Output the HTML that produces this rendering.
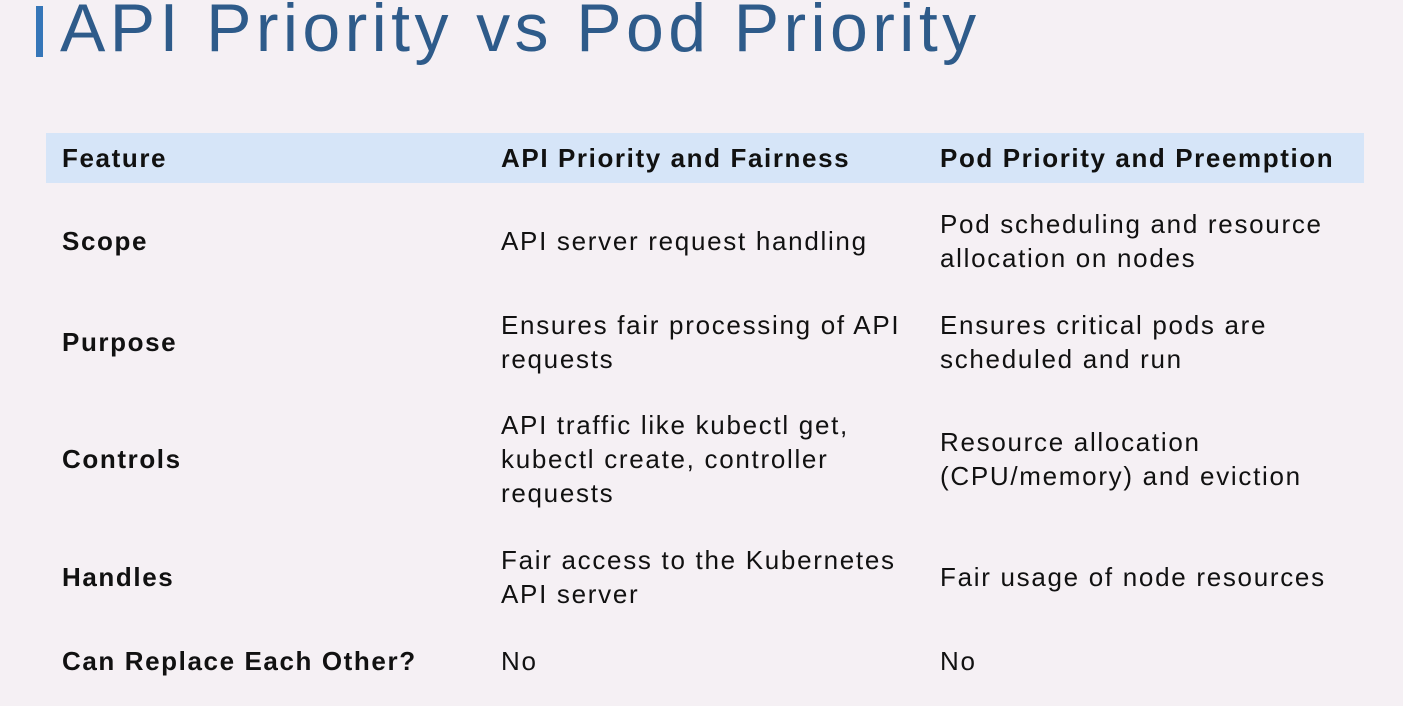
<!DOCTYPE html>
<html><head><meta charset="utf-8"><style>
html,body{margin:0;padding:0}
body{width:1403px;height:706px;background:#f5f0f4;position:relative;overflow:hidden;font-family:"Liberation Sans",sans-serif;color:#111}
.bar{position:absolute;left:36px;top:6px;width:7px;height:51px;background:#3576b8}
.title{position:absolute;left:60px;top:-12px;font-size:68px;color:#2e5b8a;letter-spacing:4.4px;white-space:nowrap;line-height:80px}
.hdr{position:absolute;left:46px;top:133px;width:1318px;height:50px;background:#d6e5f8}
.t{position:absolute;font-size:26px;line-height:34px;white-space:nowrap;letter-spacing:1.7px}
.b{font-weight:bold;letter-spacing:1.6px}
</style></head><body>
<div class="bar"></div>
<div class="title">API Priority vs Pod Priority</div>
<div class="hdr"></div>
<div class="t b" style="left:62px;top:141px">Feature</div>
<div class="t b" style="left:501px;top:141px">API Priority and Fairness</div>
<div class="t b" style="left:940px;top:141px">Pod Priority and Preemption</div>

<div class="t b" style="left:62px;top:224px">Scope</div>
<div class="t" style="left:501px;top:224px">API server request handling</div>
<div class="t" style="left:940px;top:207px">Pod scheduling and resource<br>allocation on nodes</div>

<div class="t b" style="left:62px;top:325px">Purpose</div>
<div class="t" style="left:501px;top:308px">Ensures fair processing of API<br>requests</div>
<div class="t" style="left:940px;top:308px">Ensures critical pods are<br>scheduled and run</div>

<div class="t b" style="left:62px;top:442px">Controls</div>
<div class="t" style="left:501px;top:408px">API traffic like kubectl get,<br>kubectl create, controller<br>requests</div>
<div class="t" style="left:940px;top:425px">Resource allocation<br>(CPU/memory) and eviction</div>

<div class="t b" style="left:62px;top:560px">Handles</div>
<div class="t" style="left:501px;top:543px">Fair access to the Kubernetes<br>API server</div>
<div class="t" style="left:940px;top:560px">Fair usage of node resources</div>

<div class="t b" style="left:62px;top:644px">Can Replace Each Other?</div>
<div class="t" style="left:501px;top:644px">No</div>
<div class="t" style="left:940px;top:644px">No</div>
</body></html>
